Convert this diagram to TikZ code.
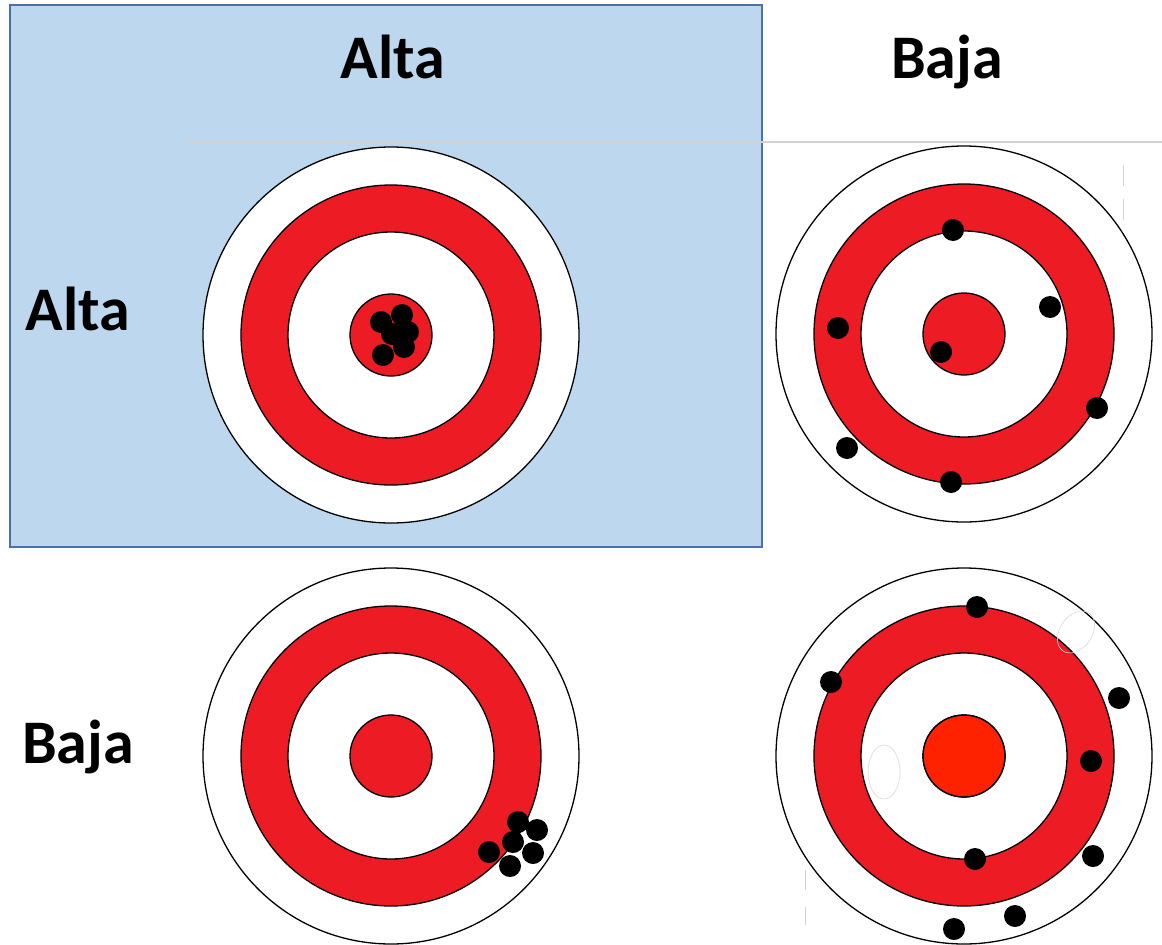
\documentclass[tikz,border=0pt]{standalone}
\usepackage{fontspec}
\setmainfont{Carlito}
\definecolor{tred}{HTML}{ED1C24}
\definecolor{torange}{HTML}{FF2200}
\definecolor{panelblue}{HTML}{BDD7EE}
\definecolor{paneledge}{HTML}{4A72A8}
\tikzset{
  pics/target/.style={code={
    \draw[ring,fill=white] (0,0) circle (188);
    \draw[ring,fill=tred]  (0,0) circle (150);
    \draw[ring,fill=white] (0,0) circle (103);
    \draw[ring,fill=#1]    (0,0) circle (41);
  }},
}
\begin{document}
\begin{tikzpicture}[x=1pt,y=-1pt,
  ring/.style={draw=black,line width=1.3pt},
  hit/.style={fill=black},
  heading/.style={font=\fontsize{62}{62}\selectfont\bfseries,anchor=base,inner sep=0pt},
  smudge/.style={draw=gray!30,line width=0.6pt},
  faint/.style={draw=gray!35,line width=1pt}]

\useasboundingbox (0,0) rectangle (1162,945);
\fill[white] (0,0) rectangle (1162,945);

% highlighted quadrant
\draw[paneledge,fill=panelblue,line width=1.6pt] (10,5) rectangle (762,547);

% column / row headings
\node[heading] (colAlta) at (393,78) {Alta};
\node[heading] (colBaja) at (947,78) {Baja};
\node[heading] (rowAlta) at (78,330) {Alta};
\node[heading] (rowBaja) at (78,763) {Baja};

% separator under the headings
\draw[gray!35,line width=1.4pt] (186,142) -- (1162,142);

% targets
\pic at (391,335) {target=tred};
\pic at (964,334) {target=tred};
\pic at (391,756) {target=tred};
\pic at (964,756) {target=tred};
\fill[torange] (964,756) circle (40.3);
\draw[ring] (964,756) circle (41);

% high / high: tight group in the centre
\foreach \p in {(381,322),(402,315),(392,334),(408,332),(404,347),(383,355)}
  \fill[hit] \p circle (11);

% high / low: scattered shots around the centre
\foreach \p in {(953,230),(1050,307),(838,328),(941,352),(1097,408),(847,448),(951,482)}
  \fill[hit] \p circle (11);

% low / high: tight group off centre
\foreach \p in {(518,822),(537,830),(513,842),(489,852),(533,853),(510,866)}
  \fill[hit] \p circle (11);

% low / low: scattered shots off centre
\foreach \p in {(977,607),(831,682),(1119,698),(1091,761),(975,859),(1093,856),(1015,916),(954,929)}
  \fill[hit] \p circle (11);

% small marks on the paper
\draw[smudge,fill=white] (884,772) ellipse (16 and 27);
\draw[smudge,rotate around={-35:(1076,632)}] (1076,632) ellipse (16 and 23);
\draw[faint] (1123,165) -- (1123,186);
\draw[faint] (1123,199) -- (1123,220);
\draw[faint] (805,870) -- (805,890);
\draw[faint] (805,907) -- (805,925);

\end{tikzpicture}
\end{document}
